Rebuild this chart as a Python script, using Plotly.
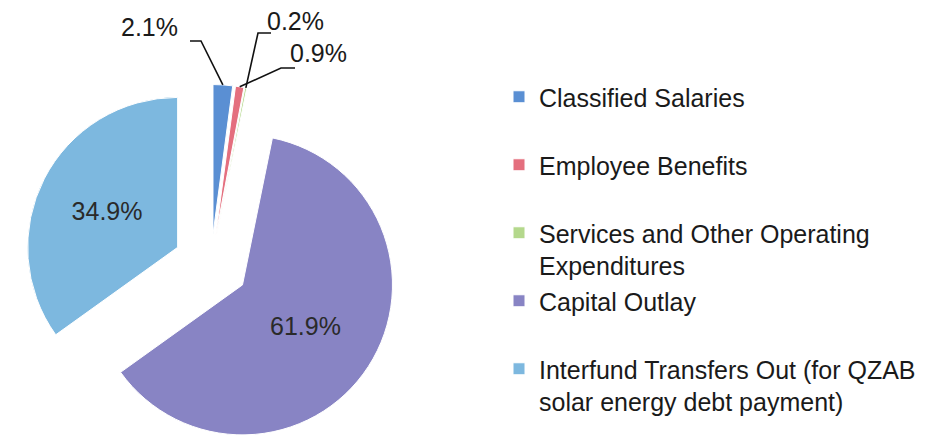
import math
import plotly.graph_objects as go

categories = [
    "Classified Salaries",
    "Employee Benefits",
    "Services and Other Operating Expenditures",
    "Capital Outlay",
    "Interfund Transfers Out (for QZAB solar energy debt payment)",
]
values = [2.1, 0.9, 0.2, 61.9, 34.9]
legend_lines = [
    ["Classified Salaries"],
    ["Employee Benefits"],
    ["Services and Other Operating", "Expenditures"],
    ["Capital Outlay"],
    ["Interfund Transfers Out (for QZAB", "solar energy debt payment)"],
]
colors = ["#5A8FD3", "#E46F7E", "#B4D88C", "#8884C4", "#7DB8DF"]
pulls = [0.2, 0.2, 0.2, 0.25, 0.25]
text_pos = ["none", "none", "none", "inside", "inside"]

W, H = 934, 444
FONT = "Liberation Sans, Arial, sans-serif"

# pie box (pixels) -> domain
box_w, box_h = 406, 375
dom_x = [0, box_w / W]
dom_y = [0, box_h / H]
cx, cy = box_w / 2, H - box_h / 2
R = min(box_w, box_h) / 2 / (1 + max(pulls))


def labels_for_legend(lines):
    return "<br>".join(lines + ["\u00a0"] * (2 - len(lines)))


fig = go.Figure(
    go.Pie(
        labels=[labels_for_legend(l) for l in legend_lines],
        values=values,
        sort=False,
        direction="clockwise",
        rotation=0,
        pull=pulls,
        marker=dict(colors=colors, line=dict(color="white", width=1)),
        texttemplate="%{value:.1f}%",
        textposition=text_pos,
        insidetextorientation="horizontal",
        insidetextfont=dict(family=FONT, size=25, color="#2a2a2a"),
        domain=dict(x=dom_x, y=dom_y),
        hovertext=categories,
        hoverinfo="text+percent",
    )
)

# leader lines for small slices, tips computed from the data
total = sum(values)
cum = 0
tips = []
for v, p in zip(values, pulls):
    mid = (cum + v / 2) / total * 2 * math.pi
    cum += v
    rr = (1 + p) * R
    tips.append((cx + rr * math.sin(mid), cy - rr * math.cos(mid)))


def px(x):
    return x / W


def py(y):
    return 1 - y / H


label_specs = [
    # idx, elbow, line end, text anchor x, text y, xanchor
    (0, (193, 33), (182, 33), 172, 19, "right"),
    (2, (250, 25), (263, 25), 257, 13, "left"),
    (1, (273, 60), (287, 60), 280, 45, "left"),
]
shapes = []
annotations = []
for idx, elbow, end, tx, ty, xa in label_specs:
    tx0, ty0 = tips[idx]
    path = f"M{px(tx0)},{py(ty0)} L{px(elbow[0])},{py(elbow[1])} L{px(end[0])},{py(end[1])}"
    shapes.append(dict(type="path", xref="paper", yref="paper", path=path,
                       line=dict(color="#111111", width=1.6)))
    annotations.append(dict(xref="paper", yref="paper", x=px(tx), y=py(ty),
                            xanchor=xa, yanchor="middle", showarrow=False,
                            text=f"{values[idx]:.1f}%",
                            font=dict(family=FONT, size=25, color="#1a1a1a")))

fig.update_layout(
    width=W,
    height=H,
    margin=dict(l=0, r=0, t=0, b=0),
    paper_bgcolor="white",
    plot_bgcolor="white",
    font=dict(family=FONT, color="#1a1a1a"),
    showlegend=True,
    legend=dict(
        x=491 / W, xanchor="left",
        y=1 - 66 / H, yanchor="top",
        font=dict(family=FONT, size=25, color="#1a1a1a"),
        valign="top",
        bgcolor="rgba(0,0,0,0)",
        traceorder="normal",
    ),
    shapes=shapes,
    annotations=annotations,
)

fig.write_html("out.html")
